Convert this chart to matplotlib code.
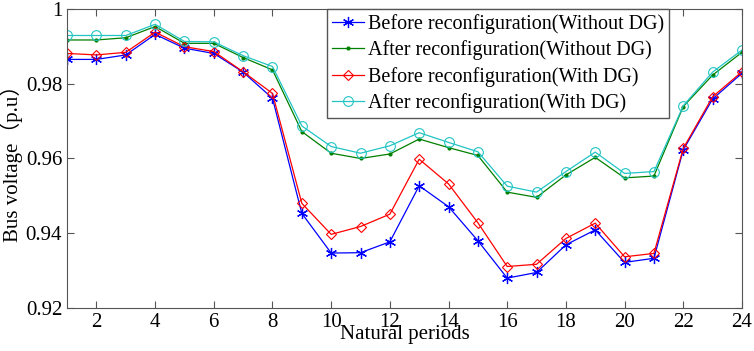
import matplotlib

matplotlib.use("Agg")
import matplotlib.pyplot as plt
from matplotlib.ticker import FormatStrFormatter

plt.rcParams["font.family"] = ["Liberation Serif", "Noto Sans CJK SC"]

periods = list(range(1, 25))

before_no_dg = [0.9865, 0.9865, 0.9877, 0.9932, 0.9895, 0.9881, 0.9831, 0.9761,
                0.9453, 0.9347, 0.9348, 0.9377, 0.9527, 0.9471, 0.9380, 0.9280,
                0.9295, 0.9369, 0.9409, 0.9322, 0.9333, 0.9623, 0.9759, 0.9828]
after_no_dg = [0.9917, 0.9917, 0.9923, 0.9953, 0.9908, 0.9908, 0.9870, 0.9837,
               0.9672, 0.9614, 0.9600, 0.9612, 0.9652, 0.9629, 0.9608, 0.9510,
               0.9496, 0.9556, 0.9603, 0.9548, 0.9553, 0.9739, 0.9823, 0.9884]
before_dg = [0.9881, 0.9877, 0.9884, 0.9938, 0.9899, 0.9886, 0.9832, 0.9774,
             0.9480, 0.9397, 0.9418, 0.9451, 0.9598, 0.9532, 0.9428, 0.9311,
             0.9317, 0.9386, 0.9427, 0.9337, 0.9346, 0.9627, 0.9765, 0.9832]
after_dg = [0.9929, 0.9929, 0.9929, 0.9959, 0.9913, 0.9912, 0.9875, 0.9846,
            0.9687, 0.9632, 0.9614, 0.9634, 0.9669, 0.9643, 0.9618, 0.9526,
            0.9510, 0.9565, 0.9617, 0.9560, 0.9565, 0.9741, 0.9831, 0.9890]

labels = ["Before reconfiguration(Without DG)",
          "After reconfiguration(Without DG)",
          "Before reconfiguration(With DG)",
          "After reconfiguration(With DG)"]

fig = plt.figure(figsize=(7.54, 3.51), dpi=100)
ax = fig.add_axes([0.089, 0.1225, 0.895, 0.852])

# matlab-ish markers: asterisk, point, open diamond, open circle
ax.plot(periods, before_no_dg, color="#0000ff", lw=0.9, marker=(6, 2, 0),
        ms=8, mew=0.9, label=labels[0])
ax.plot(periods, after_no_dg, color="#008000", lw=0.9, marker=".",
        ms=4, label=labels[1])
ax.plot(periods, before_dg, color="#ff0000", lw=0.9, marker="D",
        ms=5.5, mfc="none", mew=0.8, label=labels[2])
ax.plot(periods, after_dg, color="#22c4c4", lw=0.9, marker="o",
        ms=7, mfc="none", mew=0.8, label=labels[3])

ax.set_xlim(1, 24)
ax.set_ylim(0.92, 1.0)
ax.set_xticks(range(2, 25, 2))
ax.set_yticks([0.92, 0.94, 0.96, 0.98, 1.0])
ax.yaxis.set_major_formatter(FormatStrFormatter("%g"))
ax.tick_params(direction="in", top=True, right=True, labelsize=15, length=5,
               color="#555555")
for s in ax.spines.values():
    s.set_color("#555555")

ax.set_xlabel("Natural periods", fontsize=15, labelpad=-5)
ax.set_ylabel("Bus voltage（p.u）", fontsize=15, labelpad=2)

leg = ax.legend(loc="upper left", bbox_to_anchor=(0.385, 1.0), fontsize=14.5,
                fancybox=False, framealpha=1, edgecolor="#555555",
                borderpad=0.25, labelspacing=0.32, handlelength=1.6,
                handletextpad=0.2, borderaxespad=0)
leg.get_frame().set_linewidth(1.0)

fig.savefig("out.png", dpi=100)
